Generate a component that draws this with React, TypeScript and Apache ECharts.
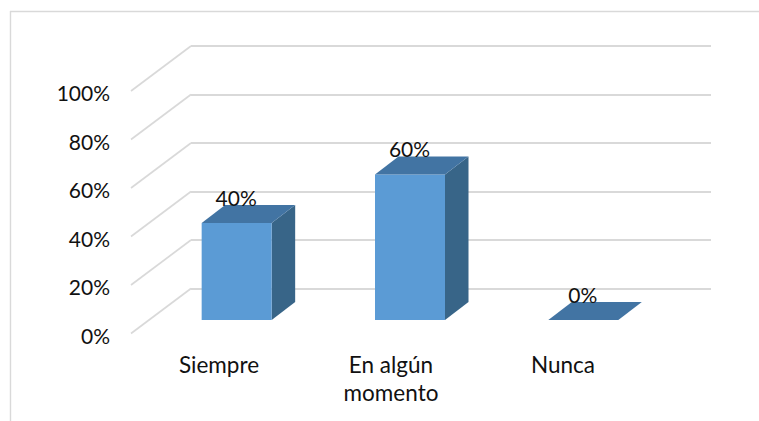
import React, { useEffect, useRef } from "react";
import * as echarts from "echarts";

const categories = ["Siempre", "En algún\nmomento", "Nunca"];
const percentages = [40, 60, 0];
const axisTicks = [0, 20, 40, 60, 80, 100];

const FONT = "Lato";
const GRID_COLOR = "#d9d9d9";
const TEXT_COLOR = "#111111";

export default function App() {
  const ref = useRef<HTMLDivElement>(null);
  useEffect(() => {
    const chart = echarts.init(ref.current!, undefined, { renderer: "svg" });
    const backGrid = { left: 191, top: 46, width: 520, height: 242.5 };
    const frontGrid = { left: 133, top: 92.5, width: 516, height: 242.5 };
    const barGrid = { left: 150, top: 77.5, width: 520, height: 242.5 };
    const valueAxisBase = { type: "value", min: 0, max: 100, interval: 20 };
    chart.setOption({
      animation: false,
      backgroundColor: "#ffffff",
      graphic: [
        { type: "line", z: 0, shape: { x1: 10, y1: 11.5, x2: 759, y2: 11.5 }, style: { stroke: GRID_COLOR, lineWidth: 1.4 } },
        { type: "line", z: 0, shape: { x1: 10.5, y1: 11, x2: 10.5, y2: 421 }, style: { stroke: GRID_COLOR, lineWidth: 1.4 } },
      ],
      grid: [backGrid, frontGrid, barGrid],
      xAxis: [
        { type: "category", gridIndex: 0, data: categories, show: false },
        {
          type: "category",
          gridIndex: 1,
          data: categories,
          axisLine: { show: false },
          axisTick: { show: false },
          axisLabel: {
            interval: 0,
            margin: 15,
            fontFamily: FONT,
            fontSize: 22.5,
            lineHeight: 28,
            color: TEXT_COLOR,
          },
        },
        { type: "category", gridIndex: 2, data: categories, show: false },
      ],
      yAxis: [
        {
          ...valueAxisBase,
          gridIndex: 0,
          axisLine: { show: false },
          axisTick: { show: false },
          axisLabel: { show: false },
          splitLine: { show: true, lineStyle: { color: GRID_COLOR, width: 1.9 } },
        },
        {
          ...valueAxisBase,
          gridIndex: 1,
          axisLine: { show: false },
          axisTick: { show: false },
          splitLine: { show: false },
          axisLabel: {
            margin: 23,
            fontFamily: FONT,
            fontSize: 21,
            color: TEXT_COLOR,
            formatter: "{value}%",
          },
        },
        { ...valueAxisBase, gridIndex: 2, show: false },
      ],
      series: [
        {
          type: "custom",
          xAxisIndex: 0,
          yAxisIndex: 0,
          data: axisTicks.map((t) => [0, t]),
          silent: true,
          z: 1,
          renderItem: (params: any, api: any) => {
            const y = api.coord([0, api.value(1)])[1];
            const x = params.coordSys.x;
            return {
              type: "line",
              shape: { x1: x, y1: y, x2: x - 60, y2: y + 45 },
              style: { stroke: GRID_COLOR, lineWidth: 1.7, fill: "none" },
            };
          },
        },
        {
          type: "custom",
          xAxisIndex: 2,
          yAxisIndex: 2,
          data: percentages.map((v, i) => [i, v]),
          silent: true,
          z: 3,
          renderItem: (_params: any, api: any) => {
            const cat = api.value(0);
            const val = api.value(1);
            const [cx, yTop] = api.coord([cat, val]);
            const [, yBottom] = api.coord([cat, 0]);
            const barW = 70;
            const dx = 23.5;
            const dy = 18;
            const x0 = cx - barW / 2;
            const x1 = cx + barW / 2;
            const children: any[] = [];
            if (val > 0) {
              children.push({
                type: "polygon",
                shape: { points: [[x1, yTop], [x1 + dx, yTop - dy], [x1 + dx, yBottom - dy], [x1, yBottom]] },
                style: { fill: "#386588" },
              });
              children.push({
                type: "rect",
                shape: { x: x0, y: yTop, width: barW, height: yBottom - yTop },
                style: { fill: "#5b9bd5" },
              });
            }
            children.push({
              type: "polygon",
              shape: { points: [[x0, yTop], [x0 + dx, yTop - dy], [x1 + dx, yTop - dy], [x1, yTop]] },
              style: { fill: "#4274a3" },
            });
            children.push({
              type: "text",
              z2: 10,
              style: {
                x: cx - 0.5,
                y: yTop - 26,
                text: `${val}%`,
                fontFamily: FONT,
                fontSize: 21,
                fill: TEXT_COLOR,
                align: "center",
                verticalAlign: "middle",
              },
            });
            return { type: "group", children };
          },
        },
      ],
    });
    return () => chart.dispose();
  }, []);
  return <div ref={ref} style={{ position: "absolute", left: 0, top: 0, width: 759, height: 421 }} />;
}
